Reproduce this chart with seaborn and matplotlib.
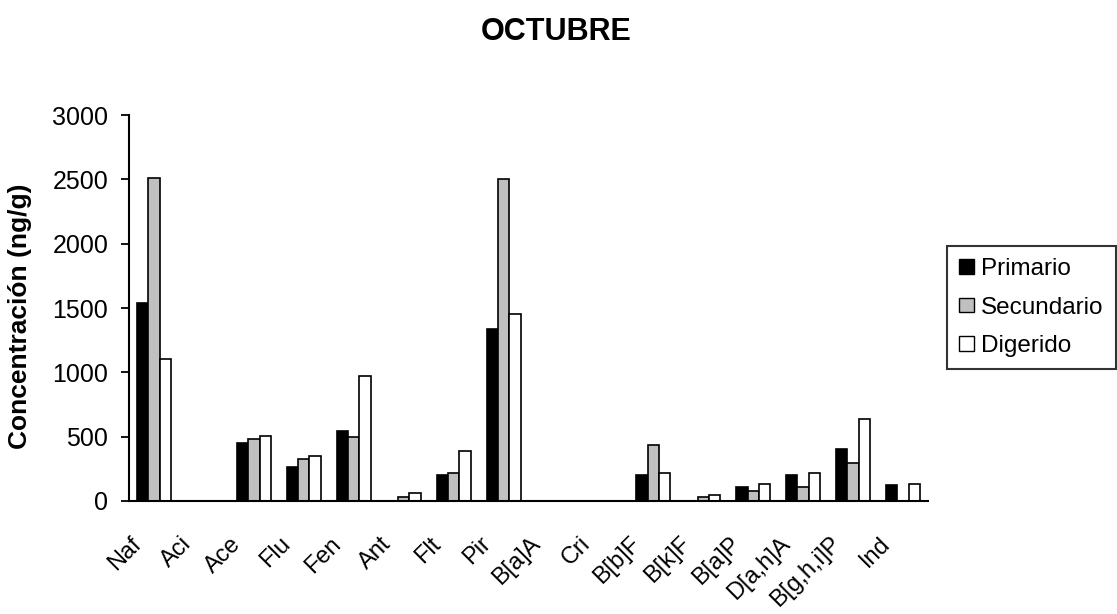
import numpy as np
import pandas as pd
import matplotlib
matplotlib.use("Agg")
import matplotlib.pyplot as plt
import matplotlib.transforms as mtransforms
import seaborn as sns

COMPOUNDS = ["Naf", "Aci", "Ace", "Flu", "Fen", "Ant", "Flt", "Pir", "B[a]A", "Cri",
             "B[b]F", "B[k]F", "B[a]P", "D[a,h]A", "B[g,h,i]P", "Ind"]
PRIMARIO   = [1535, 0, 450, 265, 545, 0, 200, 1335, 0, 0, 200, 0, 110, 200, 405, 125]
SECUNDARIO = [2510, 0, 480, 325, 495, 30, 215, 2500, 0, 0, 435, 30, 75, 105, 295, 0]
DIGERIDO   = [1100, 0, 505, 350, 975, 60, 385, 1455, 0, 0, 215, 45, 135, 215, 635, 135]
SERIES = ["Primario", "Secundario", "Digerido"]
COLORS = ["#000000", "#C0C0C0", "#FFFFFF"]
YTICKS = [0, 500, 1000, 1500, 2000, 2500, 3000]

sns.set_style("white")
plt.rcParams["font.family"] = ["Liberation Sans", "DejaVu Sans"]
plt.rcParams["text.color"] = "black"
plt.rcParams["xtick.color"] = "black"
plt.rcParams["ytick.color"] = "black"

df = pd.DataFrame({
    "Compuesto": COMPOUNDS * 3,
    "Serie": np.repeat(SERIES, len(COMPOUNDS)),
    "Valor": PRIMARIO + SECUNDARIO + DIGERIDO,
})

W, H = 1117, 614
fig = plt.figure(figsize=(W / 100, H / 100), dpi=100)
ax = fig.add_axes([129 / W, 113 / H, 799 / W, 386 / H])

sns.barplot(data=df, x="Compuesto", y="Valor", hue="Serie", order=COMPOUNDS,
            hue_order=SERIES, palette=COLORS, width=0.68, saturation=1,
            edgecolor="black", linewidth=1.2, errorbar=None, ax=ax)

ax.set_xlim(-0.5, len(COMPOUNDS) - 0.5)
ax.set_ylim(0, 3000)
ax.set_yticks(YTICKS)
ax.set_xlabel("")
ax.set_ylabel("")
for s in ["top", "right"]:
    ax.spines[s].set_visible(False)
for s in ["left", "bottom"]:
    ax.spines[s].set_linewidth(1.5)
    ax.spines[s].set_color("black")

# ticks at category boundaries, labels at centres
ax.set_xticks(np.arange(-0.5, len(COMPOUNDS)), minor=True)
ax.tick_params(axis="x", which="major", length=0, pad=23, labelsize=17)
ax.tick_params(axis="x", which="minor", length=6, width=1.3, direction="out")
ax.tick_params(axis="y", length=6, width=1.3, direction="out", labelsize=18, pad=9, left=True)

shift = mtransforms.ScaledTranslation(-24 / 100, 0, fig.dpi_scale_trans)
for lab in ax.get_xticklabels():
    lab.set_rotation(45)
    lab.set_ha("right")
    lab.set_va("top")
    lab.set_rotation_mode("anchor")
    lab.set_transform(lab.get_transform() + shift)

fig.text(556 / W, 1 - 32 / H, "OCTUBRE", ha="center", va="center",
         fontsize=22, fontweight="bold")
fig.text(20 / W, 1 - 316 / H, "Concentración (ng/g)", ha="center", va="center",
         rotation=90, fontsize=19, fontweight="bold")

leg = ax.legend(loc="upper left", bbox_to_anchor=(947 / W, 1 - 246 / H),
                bbox_transform=fig.transFigure, frameon=True, fancybox=False,
                edgecolor="black", handlelength=0.6, handleheight=0.55,
                handletextpad=0.3, borderpad=0.5, labelspacing=0.68,
                borderaxespad=0, fontsize=17.5, title=None)
leg.get_frame().set_linewidth(1.5)
for h in leg.legend_handles:
    h.set_edgecolor("black")
    h.set_linewidth(1.0)

fig.savefig("out.png", dpi=100)
